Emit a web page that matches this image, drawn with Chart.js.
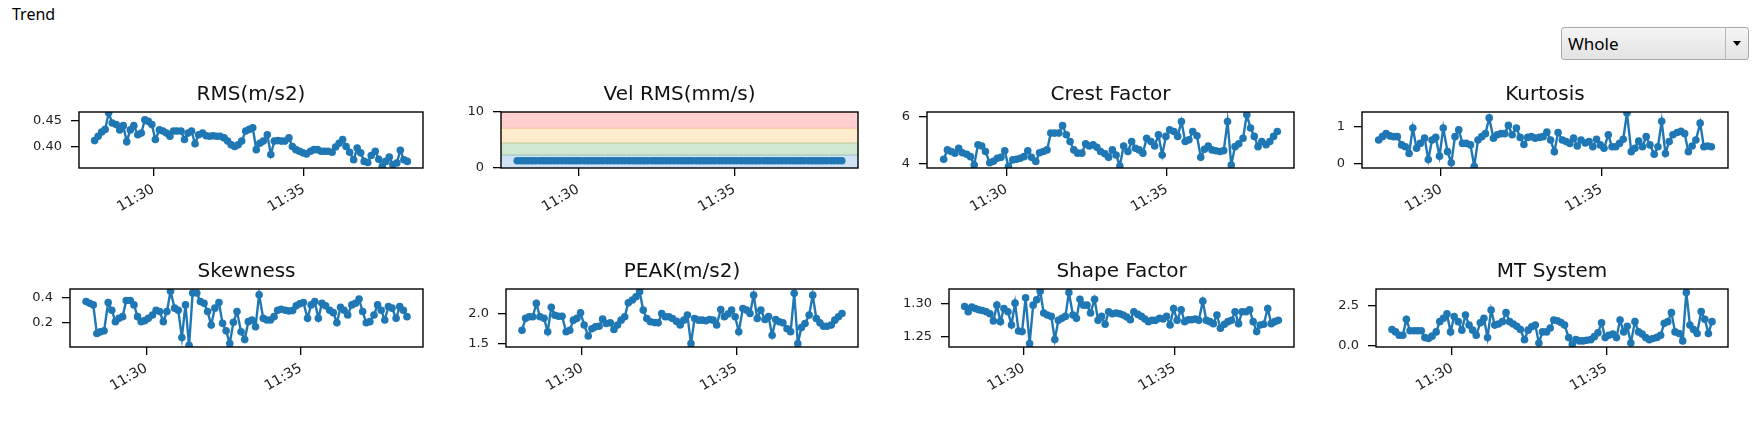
<!DOCTYPE html>
<html><head><meta charset="utf-8">
<script src="https://cdn.jsdelivr.net/npm/chart.js@4.4.1/dist/chart.umd.min.js"></script>
<style>
html,body{margin:0;padding:0;background:#fff;}
body{width:1759px;height:434px;overflow:hidden;position:relative;font-family:"Noto Sans",sans-serif;}
#trend{position:absolute;left:12px;top:6px;font-size:16px;line-height:16px;color:#000;}
#combo{position:absolute;left:1561px;top:27px;width:186px;height:31px;border:1px solid #a9a9a9;border-radius:3px;background:linear-gradient(#f5f5f5,#e3e3e3);}
#combo .txt{position:absolute;left:6px;top:0;line-height:31px;font-size:17px;color:#000;}
#combo .sep{position:absolute;left:163px;top:0;width:1px;height:31px;background:#b8b8b8;}
#combo .arr{position:absolute;left:171px;top:13px;width:0;height:0;border-left:4.5px solid transparent;border-right:4.5px solid transparent;border-top:5px solid #000;}
canvas{position:absolute;}
</style></head>
<body>
<div id="trend">Trend</div>
<div id="combo"><span class="txt">Whole</span><span class="sep"></span><span class="arr"></span></div>
<script>
// ---- data ----
const times = ["11:28:03","11:28:10","11:28:17","11:28:24","11:28:31","11:28:38","11:28:46","11:28:53","11:29:00","11:29:07",
"11:29:14","11:29:21","11:29:29","11:29:36","11:29:43","11:29:50","11:29:57","11:30:04","11:30:12","11:30:19",
"11:30:26","11:30:33","11:30:40","11:30:47","11:30:55","11:31:02","11:31:09","11:31:16","11:31:23","11:31:30",
"11:31:38","11:31:45","11:31:52","11:31:59","11:32:06","11:32:13","11:32:21","11:32:28","11:32:35","11:32:42",
"11:32:49","11:32:56","11:33:04","11:33:11","11:33:18","11:33:25","11:33:32","11:33:39","11:33:47","11:33:54",
"11:34:01","11:34:08","11:34:15","11:34:22","11:34:30","11:34:37","11:34:44","11:34:51","11:34:58","11:35:05",
"11:35:13","11:35:20","11:35:27","11:35:34","11:35:41","11:35:48","11:35:56","11:36:03","11:36:10","11:36:17",
"11:36:24","11:36:31","11:36:39","11:36:46","11:36:53","11:37:00","11:37:07","11:37:14","11:37:22","11:37:29",
"11:37:36","11:37:43","11:37:50","11:37:57","11:38:05","11:38:12","11:38:19","11:38:26"];

const rms = [0.412,0.420,0.428,0.433,0.464,0.445,0.442,0.432,0.440,0.410,
0.432,0.440,0.423,0.426,0.451,0.448,0.442,0.414,0.432,0.430,
0.426,0.420,0.430,0.430,0.430,0.414,0.426,0.430,0.406,0.423,
0.426,0.421,0.420,0.421,0.420,0.420,0.417,0.411,0.404,0.401,
0.404,0.411,0.430,0.433,0.436,0.395,0.407,0.411,0.423,0.386,
0.411,0.412,0.411,0.411,0.417,0.401,0.395,0.392,0.389,0.387,
0.392,0.395,0.395,0.392,0.392,0.392,0.390,0.400,0.407,0.414,
0.401,0.390,0.376,0.398,0.389,0.373,0.371,0.384,0.392,0.377,
0.364,0.373,0.381,0.367,0.370,0.394,0.376,0.373];

const velRms = [1.3,1.3,1.3,1.3,1.3,1.3,1.3,1.3,1.3,1.3,
1.3,1.3,1.3,1.3,1.3,1.3,1.3,1.3,1.3,1.3,
1.3,1.3,1.3,1.3,1.3,1.3,1.3,1.3,1.3,1.3,
1.3,1.3,1.3,1.3,1.3,1.3,1.3,1.3,1.3,1.3,
1.3,1.3,1.3,1.3,1.3,1.3,1.3,1.3,1.3,1.3,
1.3,1.3,1.3,1.3,1.3,1.3,1.3,1.3,1.3,1.3,
1.3,1.3,1.3,1.3,1.3,1.3,1.3,1.3,1.3,1.3,
1.3,1.3,1.3,1.3,1.3,1.3,1.3,1.3,1.3,1.3,
1.3,1.3,1.3,1.3,1.3,1.3,1.3,1.3];

const crestFactor = [4.19,4.59,4.52,4.45,4.66,4.47,4.40,4.30,3.94,4.81,
4.76,4.52,4.04,4.10,4.23,4.27,4.55,3.87,4.16,4.19,
4.23,4.30,4.55,4.27,4.09,4.47,4.52,4.59,5.31,5.31,
5.31,5.63,5.24,4.95,4.59,4.45,4.45,4.85,4.76,4.81,
4.70,4.52,4.42,4.27,4.59,4.37,3.90,4.76,4.52,4.95,
4.66,4.59,4.45,5.09,4.95,4.76,5.24,4.37,5.17,5.45,
5.38,5.17,5.81,4.95,5.02,5.38,5.20,4.27,4.62,4.76,
4.59,4.55,4.52,4.56,5.81,3.94,4.73,4.85,5.09,6.10,
5.53,5.17,4.73,4.95,4.81,4.95,5.17,5.38];

const kurtosis = [0.63,0.72,0.80,0.74,0.72,0.72,0.50,0.45,0.27,0.95,
0.41,0.54,0.68,0.11,0.63,0.70,0.20,0.95,0.32,0.02,
0.72,0.90,0.54,0.54,0.50,-0.07,0.63,0.72,0.80,1.22,
0.68,0.77,0.80,0.80,1.02,0.77,0.95,0.70,0.51,0.70,
0.72,0.68,0.70,0.72,0.84,0.63,0.32,0.83,0.63,0.59,
0.54,0.68,0.47,0.63,0.55,0.59,0.45,0.65,0.50,0.41,
0.77,0.45,0.45,0.54,0.65,1.35,0.32,0.41,0.60,0.45,
0.72,0.50,0.25,0.45,1.13,0.27,0.59,0.77,0.83,0.86,
0.80,0.32,0.47,0.63,1.08,0.45,0.47,0.45];

const skewness = [0.372,0.358,0.344,0.108,0.122,0.130,0.364,0.300,0.206,0.233,
0.247,0.380,0.380,0.344,0.247,0.206,0.214,0.233,0.261,0.300,
0.289,0.206,0.289,0.456,0.317,0.300,0.075,0.344,0.011,0.442,
0.442,0.372,0.358,0.289,0.178,0.317,0.364,0.192,0.130,0.025,
0.200,0.289,0.122,0.058,0.206,0.219,0.164,0.428,0.233,0.219,
0.219,0.247,0.300,0.308,0.300,0.294,0.297,0.336,0.353,0.364,
0.233,0.344,0.372,0.233,0.358,0.336,0.300,0.280,0.197,0.325,
0.300,0.261,0.344,0.358,0.392,0.289,0.197,0.206,0.261,0.344,
0.300,0.219,0.331,0.317,0.233,0.331,0.300,0.247];

const peak = [1.725,1.92,1.945,1.945,2.165,1.945,1.92,1.70,2.10,1.97,
1.955,1.955,1.70,1.725,1.89,1.92,2.01,1.81,1.63,1.75,
1.78,1.79,1.907,1.835,1.846,1.736,1.81,1.89,1.945,2.176,
2.22,2.275,2.357,2.055,1.918,1.863,1.85,1.846,2.0,1.945,
1.945,1.918,1.87,1.81,1.89,1.973,1.505,1.918,1.89,1.89,
1.88,1.90,1.89,1.81,2.066,1.945,1.99,2.055,1.945,1.70,
2.08,2.055,2.0,2.30,1.918,2.055,1.90,1.95,1.643,1.90,
1.863,1.846,1.75,1.70,2.33,1.505,1.77,1.835,1.973,2.30,
1.918,1.846,1.79,1.79,1.81,1.89,1.945,2.0];

const shapeFactor = [1.295,1.287,1.294,1.292,1.290,1.289,1.287,1.284,1.273,1.297,
1.272,1.292,1.287,1.267,1.300,1.258,1.257,1.308,1.239,1.297,
1.305,1.318,1.285,1.282,1.280,1.245,1.274,1.277,1.280,1.316,
1.282,1.277,1.306,1.297,1.297,1.285,1.306,1.274,1.280,1.268,
1.287,1.284,1.285,1.284,1.282,1.279,1.275,1.287,1.283,1.280,
1.276,1.272,1.274,1.274,1.277,1.276,1.280,1.267,1.292,1.274,
1.290,1.272,1.275,1.275,1.276,1.274,1.303,1.274,1.272,1.269,
1.282,1.262,1.268,1.272,1.274,1.287,1.269,1.287,1.287,1.290,
1.272,1.257,1.267,1.268,1.292,1.269,1.272,1.274];

const mtSystem = [1.00,0.85,0.64,0.64,1.65,0.92,0.92,0.92,0.92,0.49,
0.43,0.58,0.85,1.50,1.71,1.99,0.85,1.82,1.50,0.96,
1.92,1.28,0.96,0.64,1.43,1.71,0.49,2.24,1.28,1.35,
1.50,2.07,1.50,1.35,1.20,1.00,0.36,0.96,1.18,1.28,
0.15,0.85,0.85,1.10,1.60,1.56,1.45,1.28,0.49,0.06,
0.36,0.28,0.28,0.32,0.36,0.55,0.79,1.43,0.49,0.64,
0.71,0.49,1.60,0.85,1.20,0.15,1.50,0.85,0.71,0.49,
0.36,0.43,0.50,0.64,1.39,1.50,2.07,0.85,0.75,0.28,
3.35,1.28,1.00,0.75,2.14,1.65,0.75,1.50];

const xTickLabels = ["11:30","11:35"];
const rmsTicks = ["0.40","0.45"];
const velTicks = ["0","10"];
const crestTicks = ["4","6"];
const kurtTicks = ["0","1"];
const skewTicks = ["0.2","0.4"];
const peakTicks = ["1.5","2.0"];
const shapeTicks = ["1.25","1.30"];
const mtTicks = ["0.0","2.5"];

const velBandEdges = [0, 2.3, 4.5, 7.1, 10];
const velBandColors = ["#d0e3f6","#cfe6cf","#feeccd","#ffcfcf"];
const velBandLines = ["rgba(70,150,150,0.35)","rgba(150,160,60,0.35)","rgba(255,130,40,0.35)"];

// ---- layout ----
const BLUE = "#1f77b4";
const YW = 70, PT = 40, PR = 10, XH = 60;
function toMin(s){const p=s.split(":").map(Number);return p[0]*60+p[1]+(p[2]||0)/60;}
const tMins = times.map(toMin);
const tLo = Math.min(...tMins), tHi = Math.max(...tMins), tPad = (tHi-tLo)*0.05;
const xTickVals = xTickLabels.map(toMin);

const panels = [
  {title:"RMS(m/s2)", values:rms, ticks:rmsTicks, ylim:[0.3606,0.4656], box:[79,112,423,168]},
  {title:"Vel RMS(mm/s)", values:velRms, ticks:velTicks, ylim:[0,10], box:[501,112,858,168], bands:true},
  {title:"Crest Factor", values:crestFactor, ticks:crestTicks, ylim:[3.813,6.216], box:[927,112,1294,168]},
  {title:"Kurtosis", values:kurtosis, ticks:kurtTicks, ylim:[-0.117,1.378], box:[1362,112,1728,168]},
  {title:"Skewness", values:skewness, ticks:skewTicks, ylim:[-0.003,0.475], box:[70,289,423,347]},
  {title:"PEAK(m/s2)", values:peak, ticks:peakTicks, ylim:[1.45,2.401], box:[506,289,858,347]},
  {title:"Shape Factor", values:shapeFactor, ticks:shapeTicks, ylim:[1.2337,1.3214], box:[949,289,1294,347]},
  {title:"MT System", values:mtSystem, ticks:mtTicks, ylim:[-0.107,3.568], box:[1376,289,1728,347]}
];

const framePlugin = {id:"frame", afterDatasetsDraw(chart){
  const a = chart.chartArea, ctx = chart.ctx;
  ctx.save(); ctx.strokeStyle="#000"; ctx.lineWidth=1.4;
  ctx.strokeRect(a.left, a.top, a.right-a.left, a.bottom-a.top);
  ctx.restore();
}};
function titlePlugin(text){ return {id:"ttl", afterDraw(chart){
  const a = chart.chartArea, ctx = chart.ctx;
  ctx.save(); ctx.font='20px "DejaVu Sans"'; ctx.fillStyle="#111"; ctx.textAlign="center"; ctx.textBaseline="alphabetic";
  ctx.fillText(text, (a.left+a.right)/2, a.top-12);
  ctx.restore();
}};}
const bandPlugin = {id:"bands", beforeDatasetsDraw(chart){
  const a = chart.chartArea, ctx = chart.ctx, y = chart.scales.y;
  ctx.save();
  for(let i=0;i<velBandColors.length;i++){
    const y0 = y.getPixelForValue(velBandEdges[i]), y1 = y.getPixelForValue(velBandEdges[i+1]);
    ctx.fillStyle = velBandColors[i];
    ctx.fillRect(a.left, y1, a.right-a.left, y0-y1);
  }
  ctx.lineWidth = 1.2;
  for(let i=1;i<velBandEdges.length-1;i++){
    const yy = y.getPixelForValue(velBandEdges[i]);
    ctx.strokeStyle = velBandLines[i-1];
    ctx.beginPath(); ctx.moveTo(a.left, yy); ctx.lineTo(a.right, yy); ctx.stroke();
  }
  ctx.restore();
}};

function makeChart(p){
  const cv = document.createElement("canvas");
  const L = p.box[0]-YW, T = p.box[1]-PT, W = p.box[2]+PR-L, H = p.box[3]+XH-T;
  cv.width = W; cv.height = H;
  cv.style.left = L+"px"; cv.style.top = T+"px"; cv.style.width = W+"px"; cv.style.height = H+"px";
  document.body.appendChild(cv);
  const yVals = p.ticks.map(Number);
  const gridOpt = {display:true, drawOnChartArea:false, drawTicks:true, tickLength:8, color:"#000", lineWidth:1.3};
  const plugins = [framePlugin, titlePlugin(p.title)];
  if(p.bands) plugins.push(bandPlugin);
  new Chart(cv, {
    type:"line",
    data:{datasets:[{
      data: tMins.map((t,i)=>({x:t, y:p.values[i]})),
      borderColor:BLUE, backgroundColor:BLUE, borderWidth:2.4,
      pointRadius:3.8, pointHoverRadius:3.8, pointBackgroundColor:BLUE, pointBorderWidth:0,
      tension:0, fill:false, clip:0
    }]},
    options:{
      responsive:false, animation:false, events:[],
      layout:{padding:{top:PT,left:0,right:PR,bottom:0}},
      plugins:{legend:{display:false}, tooltip:{enabled:false}, title:{display:false}},
      scales:{
        x:{type:"linear", min:tLo-tPad, max:tHi+tPad,
          grid:gridOpt, border:{display:false},
          ticks:{autoSkip:false, minRotation:30, maxRotation:30, padding:5, font:{family:"DejaVu Sans", size:14}, color:"#222",
            callback:(v)=>{const i=xTickVals.findIndex(t=>Math.abs(t-v)<1e-6);return i>=0?xTickLabels[i]:"";}},
          afterBuildTicks:(s)=>{s.ticks = xTickVals.map(v=>({value:v}));},
          afterFit:(s)=>{s.height=XH; s.paddingLeft=0; s.paddingRight=0; s.paddingTop=0; s.paddingBottom=0;}
        },
        y:{type:"linear", min:p.ylim[0], max:p.ylim[1],
          grid:gridOpt, border:{display:false},
          ticks:{padding:9, font:{family:"DejaVu Sans", size:13}, color:"#222",
            callback:(v)=>{const i=yVals.findIndex(t=>Math.abs(t-v)<1e-9);return i>=0?p.ticks[i]:"";}},
          afterBuildTicks:(s)=>{s.ticks = yVals.map(v=>({value:v}));},
          afterFit:(s)=>{s.width=YW; s.paddingTop=0; s.paddingBottom=0; s.paddingLeft=0; s.paddingRight=0;}
        }
      }
    },
    plugins: plugins
  });
}
panels.forEach(makeChart);
</script>
</body></html>
